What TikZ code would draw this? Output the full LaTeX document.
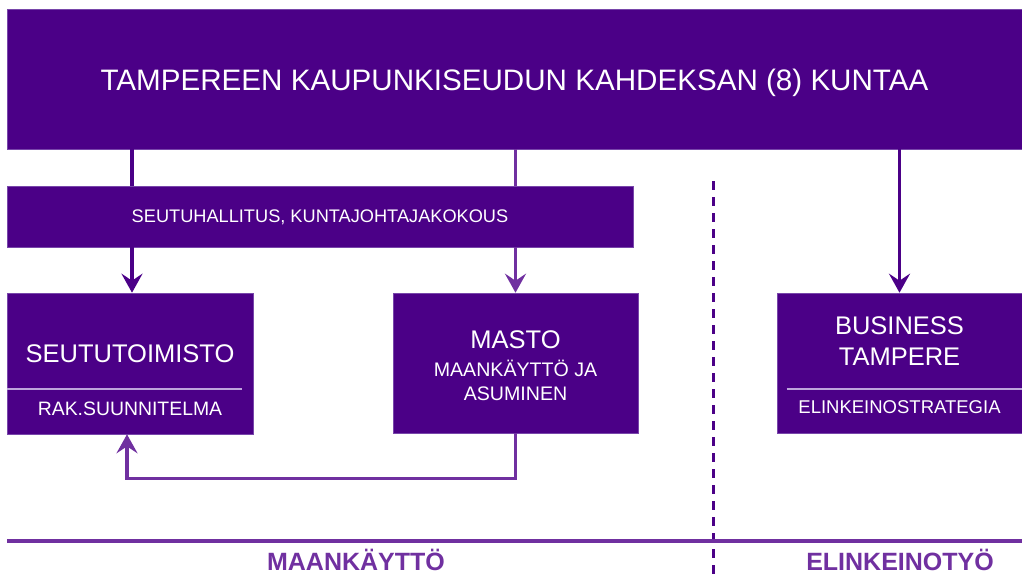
\documentclass[tikz,border=0pt]{standalone}
\usepackage{fontspec}
\setmainfont{Liberation Sans}
\usepackage{tikz}
\usepackage{xcolor}
\usetikzlibrary{arrows.meta,positioning,calc}
\definecolor{deeppurple}{RGB}{75, 0, 135}
\definecolor{midpurple}{RGB}{112, 48, 160}
\definecolor{edgepurple}{RGB}{120, 70, 170}
\definecolor{rulepurple}{RGB}{190, 165, 220}
\tikzstyle{unit} = [
    rectangle,
    fill=deeppurple,
    draw=edgepurple,
    line width=0.6pt,
    inner sep=0pt
]
\tikzstyle{txt} = [
    anchor=base,
    inner sep=0pt,
    text=white
]
\tikzstyle{flow} = [
    line width=3.5pt,
    -{Stealth[length=19pt,width=21pt,inset=7pt]},
    draw=deeppurple
]
\tikzstyle{plain} = [
    line width=3.5pt,
    draw=deeppurple
]
\newcommand{\fs}[1]{\fontsize{#1}{#1}\selectfont}

\begin{document}
\begin{tikzpicture}[x=1pt, y=-1pt]
    \useasboundingbox (0,0) rectangle (1022,574);

    % boxes
    \node[unit, minimum width=1015pt, minimum height=140pt] (top) at (514.5,79) {};
    \node[unit, minimum width=626pt, minimum height=61pt] (hallitus) at (320,216.5) {};
    \node[unit, minimum width=246pt, minimum height=141pt] (seutu) at (130,363.5) {};
    \node[unit, minimum width=245pt, minimum height=140pt] (masto) at (515.5,363) {};
    \node[unit, minimum width=245pt, minimum height=140pt] (business) at (899.5,363) {};

    % texts
    \node[txt, font=\fs{29.6}] (toptxt) at (514.5,90) {TAMPEREEN KAUPUNKISEUDUN KAHDEKSAN (8) KUNTAA};
    \node[txt, font=\fs{18.2}] (halltxt) at (320,222.5) {SEUTUHALLITUS, KUNTAJOHTAJAKOKOUS};
    \node[txt, font=\fs{25.5}] (seututxt) at (130,362) {SEUTUTOIMISTO};
    \node[txt, font=\fs{19.4}] (raktxt) at (130,415) {RAK.SUUNNITELMA};
    \node[txt, font=\fs{25.5}] (mastotxt) at (515.5,348) {MASTO};
    \node[txt, font=\fs{19.6}] (maatxt) at (515.5,376) {MAANKÄYTTÖ JA};
    \node[txt, font=\fs{19.6}] (asutxt) at (515.5,400) {ASUMINEN};
    \node[txt, font=\fs{25.5}] (bustxt) at (899.5,334) {BUSINESS};
    \node[txt, font=\fs{25.5}] (tamtxt) at (899.5,365) {TAMPERE};
    \node[txt, font=\fs{18.5}] (strattxt) at (899.5,413.6) {ELINKEINOSTRATEGIA};

    % dividers inside boxes
    \draw[rulepurple, line width=1.5pt] ([yshift=-25.5pt]seutu.west) -- ([xshift=-11pt,yshift=-25.5pt]seutu.east);
    \draw[rulepurple, line width=1.5pt] ([xshift=10pt,yshift=-26pt]business.west) -- ([yshift=-26pt]business.east);

    % connectors
    \draw[plain] ([xshift=2pt]top.south -| seutu.north) -- ([xshift=2pt]hallitus.north -| seutu.north);
    \draw[flow] ([xshift=2pt]hallitus.south -| seutu.north) -- ([xshift=2pt]seutu.north);
    \draw[plain, draw=midpurple] (top.south -| masto.north) -- (hallitus.north -| masto.north);
    \draw[flow, draw=midpurple] (hallitus.south -| masto.north) -- (masto.north);
    \draw[flow] (top.south -| business.north) -- (business.north);
    \draw[flow, draw=midpurple] (masto.south) -- ++(0,45) -| ([xshift=-3pt]seutu.south);

    % section divider and rule
    \coordinate (divtop) at (713,181);
    \coordinate (divbot) at (713,574);
    \draw[deeppurple, line width=3pt, dash pattern=on 9pt off 7pt] (divtop) -- (divbot);
    \coordinate (ruleL) at (7,541);
    \coordinate (ruleR) at (1022,541);
    \draw[midpurple, line width=3.5pt] (ruleL) -- (ruleR);

    % section labels
    \node[txt, text=midpurple, font=\fs{25}\bfseries] (maalbl) at (356,570) {MAANKÄYTTÖ};
    \node[txt, text=midpurple, font=\fs{25}\bfseries] (elilbl) at (900,570) {ELINKEINOTYÖ};
\end{tikzpicture}
\end{document}
